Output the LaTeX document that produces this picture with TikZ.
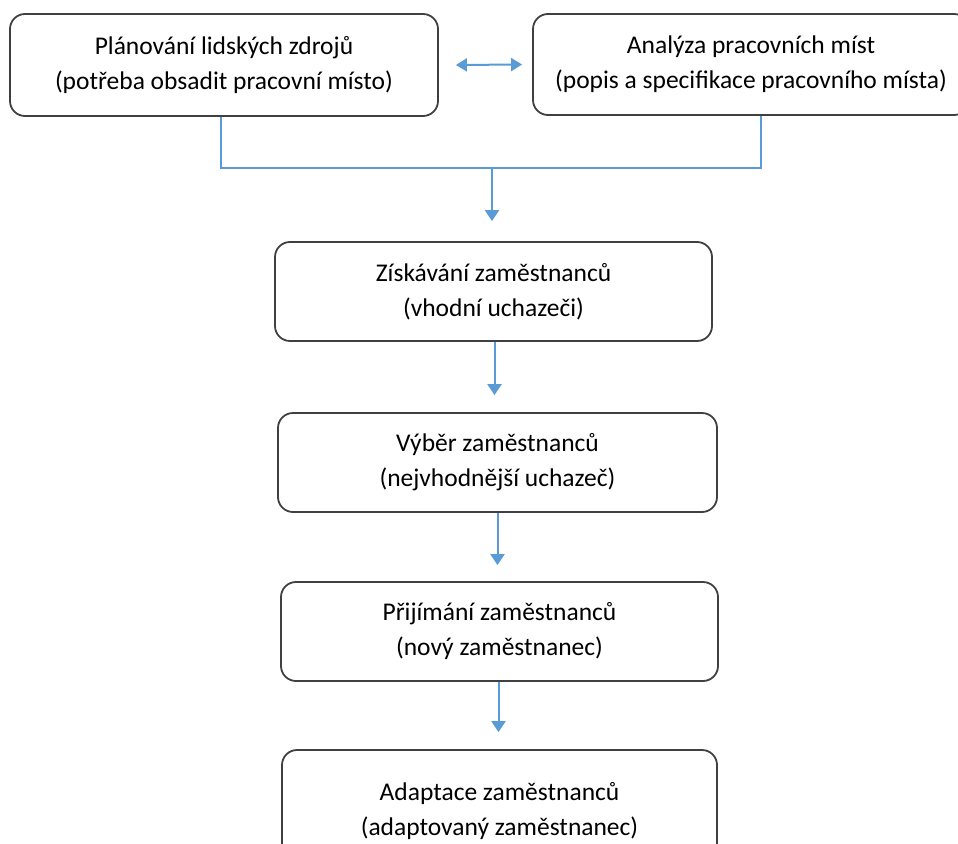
\documentclass[tikz,border=0pt]{standalone}
\usepackage{fontspec}
\setmainfont{Carlito}
\usetikzlibrary{arrows.meta,calc}
\definecolor{arrowblue}{HTML}{5B9BD5}
\definecolor{boxline}{HTML}{404040}
\begin{document}
\begin{tikzpicture}[x=1pt,y=-1pt,
  box/.style={draw=boxline, line width=1.8pt, rounded corners=15pt, align=center,
    font=\fontsize{25.5}{35}\selectfont, inner sep=0pt, text=black},
  conn/.style={draw=arrowblue, line width=1.5pt},
  flow/.style={draw=arrowblue, line width=2pt, -{Triangle[width=14pt,length=11pt]}},
  biflow/.style={draw=arrowblue, line width=2pt, {Triangle[width=13pt,length=11pt]}-{Triangle[width=13pt,length=11pt]}}]
\useasboundingbox (0,0) rectangle (958,843);
\clip (0,0) rectangle (958,843);
\node[box, minimum width=428pt, minimum height=102pt] (b1) at (224,65)
  {Plánování lidských zdrojů\\(potřeba obsadit pracovní místo)};
\node[box, minimum width=436pt, minimum height=101pt] (b2) at (751,64.5)
  {Analýza pracovních míst\\(popis a specifikace pracovního místa)};
\node[box, minimum width=437pt, minimum height=99pt] (b3) at (493.5,291.5)
  {Získávání zaměstnanců\\(vhodní uchazeči)};
\node[box, minimum width=439pt, minimum height=99pt] (b4) at (497.5,462.5)
  {Výběr zaměstnanců\\(nejvhodnější uchazeč)};
\node[box, minimum width=437pt, minimum height=99pt] (b5) at (499.5,631.5)
  {Přijímání zaměstnanců\\(nový zaměstnanec)};
\node[box, minimum width=435pt, minimum height=122pt] (b6) at (499.5,811)
  {Adaptace zaměstnanců\\(adaptovaný zaměstnanec)};
\coordinate (j1) at (492,168);
\draw[biflow] ([xshift=17pt]b1.east) -- ([xshift=-10pt]b2.west);
\draw[conn] ([xshift=-3pt]b1.south) |- (j1) -| ([xshift=10pt]b2.south);
\draw[flow, shorten >=20pt] (j1) -- (j1 |- b3.north);
\draw[flow, shorten >=17pt] ([xshift=1pt]b3.south) -- ([xshift=1pt]b3.south |- b4.north);
\draw[flow, shorten >=16pt] (b4.south) -- (b4.south |- b5.north);
\draw[flow, shorten >=17pt] ([xshift=-1pt]b5.south) -- ([xshift=-1pt]b5.south |- b6.north);
\end{tikzpicture}
\end{document}
